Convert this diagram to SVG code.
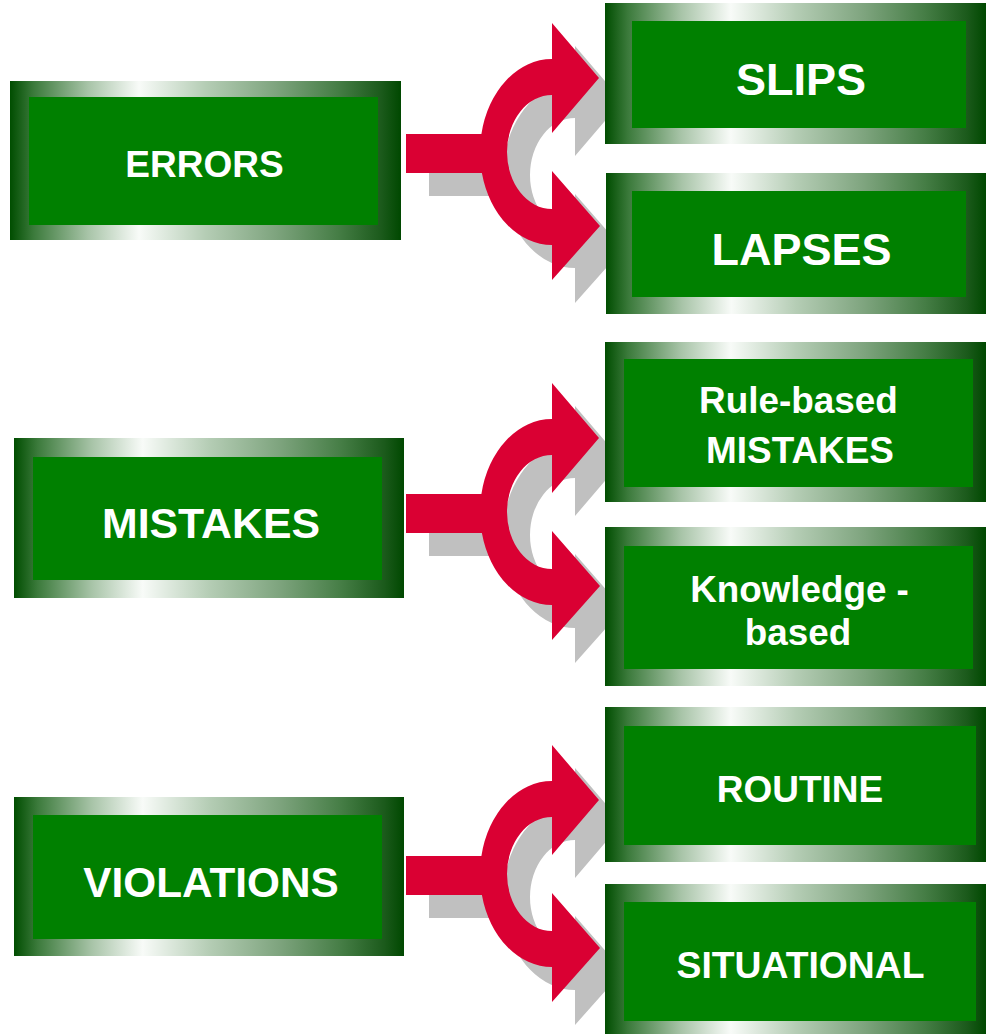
<svg xmlns="http://www.w3.org/2000/svg" width="986" height="1034" viewBox="0 0 986 1034">
<defs>
<linearGradient id="frame" x1="0" y1="0" x2="1" y2="0">
<stop offset="0" stop-color="#004d00"/>
<stop offset="0.06" stop-color="#3b7a3b"/>
<stop offset="0.2" stop-color="#a8c4a8"/>
<stop offset="0.33" stop-color="#f8fbf8"/>
<stop offset="0.5" stop-color="#b5cdb5"/>
<stop offset="0.68" stop-color="#7ea47e"/>
<stop offset="0.84" stop-color="#457d45"/>
<stop offset="0.95" stop-color="#1b5a1b"/>
<stop offset="1" stop-color="#004800"/>
</linearGradient>
<path id="fork" d="M406,134 L481.4,134 A72,93 0 0 1 552,59 L552,23 L599,78 L552,133 L552,95 A45,57 0 0 0 552,209 L552,171 L600,226 L552,280 L552,245 A72,93 0 0 1 481.9,173 L406,173 Z"/>
</defs>
<style>
.outer{fill:url(#frame)}
.inner{fill:#008000}
.lbl{font-family:"Liberation Sans",Arial,Helvetica,sans-serif;font-weight:bold;fill:#ffffff;text-anchor:middle}
.shadow{fill:#c0c0c0}
.arrow{fill:#da0033}
</style>
<g id="connectors">
<g id="fork-errors">
<use href="#fork" class="shadow" transform="translate(23,23)"/>
<use href="#fork" class="arrow"/>
</g>
<g id="fork-mistakes" transform="translate(0,360)">
<use href="#fork" class="shadow" transform="translate(23,23)"/>
<use href="#fork" class="arrow"/>
</g>
<g id="fork-violations" transform="translate(0,722)">
<use href="#fork" class="shadow" transform="translate(23,23)"/>
<use href="#fork" class="arrow"/>
</g>
</g>
<g id="errors">
<rect class="outer" x="10" y="81" width="391" height="159"/>
<rect class="inner" x="29" y="97" width="349" height="128"/>
<text class="lbl" x="204.5" y="177" font-size="37">ERRORS</text>
</g>
<g id="slips">
<rect class="outer" x="605" y="3" width="381" height="141"/>
<rect class="inner" x="632" y="21" width="334" height="107"/>
<text class="lbl" x="801" y="95" font-size="45">SLIPS</text>
</g>
<g id="lapses">
<rect class="outer" x="606" y="173" width="380" height="141"/>
<rect class="inner" x="632" y="191" width="334" height="106"/>
<text class="lbl" x="801.5" y="265" font-size="45">LAPSES</text>
</g>
<g id="mistakes">
<rect class="outer" x="14" y="438" width="390" height="160"/>
<rect class="inner" x="33" y="457" width="349" height="123"/>
<text class="lbl" x="211" y="538" font-size="42.8">MISTAKES</text>
</g>
<g id="rule-based">
<rect class="outer" x="605" y="342" width="381" height="160"/>
<rect class="inner" x="624" y="359" width="349" height="128"/>
<text class="lbl" x="798.5" y="413" font-size="36.9">Rule-based</text>
<text class="lbl" x="800" y="463" font-size="36.9">MISTAKES</text>
</g>
<g id="knowledge-based">
<rect class="outer" x="605" y="527" width="381" height="159"/>
<rect class="inner" x="624" y="546" width="349" height="123"/>
<text class="lbl" x="799.5" y="602" font-size="36.8">Knowledge -</text>
<text class="lbl" x="798" y="645" font-size="36.8">based</text>
</g>
<g id="violations">
<rect class="outer" x="14" y="797" width="390" height="159"/>
<rect class="inner" x="33" y="815" width="349" height="124"/>
<text class="lbl" x="211" y="897" font-size="42.3">VIOLATIONS</text>
</g>
<g id="routine">
<rect class="outer" x="605" y="707" width="381" height="155"/>
<rect class="inner" x="624" y="726" width="352" height="119"/>
<text class="lbl" x="800" y="802" font-size="37">ROUTINE</text>
</g>
<g id="situational">
<rect class="outer" x="605" y="884" width="381" height="150"/>
<rect class="inner" x="624" y="902" width="352" height="119"/>
<text class="lbl" x="800.5" y="978" font-size="37.3">SITUATIONAL</text>
</g>
</svg>
